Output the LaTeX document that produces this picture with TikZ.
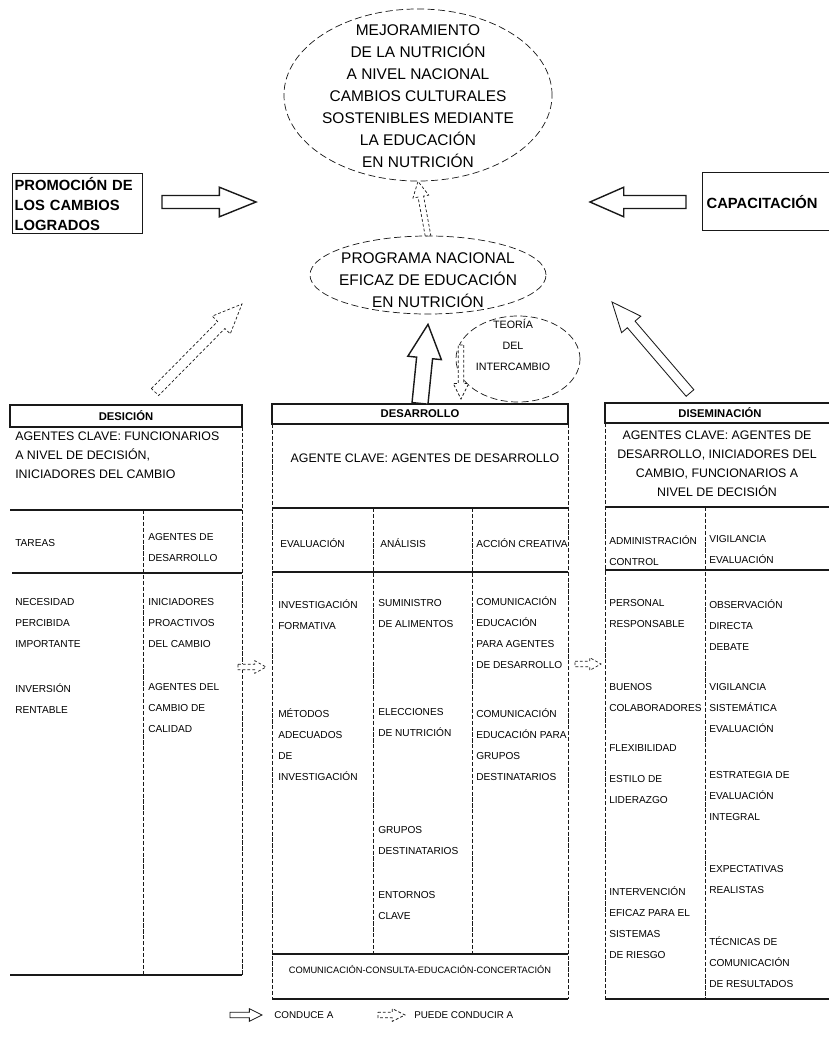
\documentclass[tikz,border=0pt]{standalone}
\usepackage{fontspec}
\setmainfont{Liberation Sans}
\usepackage{tikz}
\usetikzlibrary{positioning,calc,shapes.geometric}
\definecolor{colorink}  {RGB}{25 ,25 ,25 }
\definecolor{colorpage} {RGB}{255,255,255}

% hollow block arrow: [style]{from}{to}{shaft half width}{head half width}{head length}
\newcommand{\blockarrow}[6][]{%
  \coordinate (ba-neck) at ($(#3)!#6!(#2)$);
  \draw[#1] ($(#2)!#4!90:(#3)$) -- ($(ba-neck)!#4!90:(#3)$) -- ($(ba-neck)!#5!90:(#3)$)
    -- (#3) -- ($(ba-neck)!#5!-90:(#3)$) -- ($(ba-neck)!#4!-90:(#3)$)
    -- ($(#2)!#4!-90:(#3)$) -- cycle;}

\begin{document}
\begin{tikzpicture}[
    x=0.025cm, y=-0.025cm,
    font=\fontsize{7.2}{15}\selectfont,
    cell/.style={anchor=north west, align=left, inner sep=0pt},
    key/.style={align=center, inner sep=0pt, font=\fontsize{8.8}{13.5}\selectfont},
    big/.style={align=center, inner sep=0pt, font=\fontsize{11}{15.6}\selectfont},
    side/.style={draw=colorink, line width=0.9pt, anchor=north west, inner ysep=0pt, align=left,
                 font=\bfseries\fontsize{10.5}{14.2}\selectfont},
    headbox/.style={draw=colorink, line width=0.9pt, inner sep=0pt, font=\bfseries\fontsize{8}{10}\selectfont},
    oval/.style={draw=colorink, ellipse, dash pattern=on 5pt off 2.5pt, line width=0.5pt, inner sep=0pt},
    rule/.style={draw=colorink, line width=0.9pt},
    divider/.style={draw=colorink, dash pattern=on 3pt off 1.2pt, line width=0.45pt},
    fat/.style={draw=colorink, fill=colorpage, line width=1pt, line join=miter},
    faint/.style={draw=colorink, fill=colorpage, line width=0.5pt, dash pattern=on 2pt off 1.5pt},
]
\fill[colorpage] (0,0) rectangle (829,1040);
\useasboundingbox (0,0) rectangle (829,1040);

% goal and programme
\node[oval, minimum width=6.7cm, minimum height=4.3cm] (meta) at (418,95) {};
\node[big] (metatext) at (418,96) {MEJORAMIENTO\\DE LA NUTRICIÓN\\A NIVEL NACIONAL\\CAMBIOS CULTURALES\\SOSTENIBLES MEDIANTE\\LA EDUCACIÓN\\EN NUTRICIÓN};

\node[oval, minimum width=5.9cm, minimum height=1.95cm] (programa) at (428,275) {};
\node[big] (programatext) at (428,280) {PROGRAMA NACIONAL\\EFICAZ DE EDUCACIÓN\\EN NUTRICIÓN};

\node[oval, minimum width=3.1cm, minimum height=2.15cm] (teoria) at (518,359) {};
\node[align=center, inner sep=0pt, font=\fontsize{7.6}{15}\selectfont] (teoriatext) at (513,345) {TEORÍA\\DEL\\INTERCAMBIO};

% side boxes
\node[side, text width=3.15cm, minimum height=1.5cm, inner xsep=0.05cm] (promo) at (12,173) {PROMOCIÓN DE\\LOS CAMBIOS\\LOGRADOS};
\node[side, text width=3.3cm, minimum height=1.45cm, inner xsep=0.1cm] (capacita) at (702,172) {CAPACITACIÓN};

\coordinate (promoout) at (162,202);
\coordinate (metaleft) at (256,202);
\coordinate (capin) at (686,202);
\coordinate (metaright) at (590,202);
\blockarrow[fat]{promoout}{metaleft}{4.6pt}{10.5pt}{26pt}
\blockarrow[fat]{capin}{metaright}{4.6pt}{10.5pt}{24pt}

% DESICION
\node[headbox, minimum width=5.8cm, minimum height=0.55cm] (decision) at (126,416) {DESICIÓN};
\node[key, anchor=north west, align=left] (decisionkey) at (15,432) {AGENTES CLAVE: FUNCIONARIOS\\A NIVEL DE DECISIÓN,\\INICIADORES DEL CAMBIO};
\draw[rule] (10,510) -- (242,510);
\draw[divider] (242,427) -- (242,975);
\draw[divider] (143,510) -- (143,975);
\draw[rule] (12,573) -- (242,573);
\draw[rule] (10,975) -- (242,975);
\node[cell] (tareas) at (15,539) {TAREAS};
\node[cell] (agentesdes) at (148,533) {AGENTES DE\\DESARROLLO};
\node[cell] (necesidad) at (15,598) {NECESIDAD\\PERCIBIDA\\IMPORTANTE};
\node[cell] (iniciadores) at (148,598) {INICIADORES\\PROACTIVOS\\DEL CAMBIO};
\node[cell] (inversion) at (15,683) {INVERSIÓN\\RENTABLE};
\node[cell] (agentescambio) at (148,683) {AGENTES DEL\\CAMBIO DE\\CALIDAD};

% DESARROLLO
\node[headbox, minimum width=7.4cm, minimum height=0.5cm] (desarrollo) at (420,414) {DESARROLLO};
\node[key] (desarrollokey) at (425,458) {AGENTE CLAVE: AGENTES DE DESARROLLO};
\draw[rule] (272,508) -- (568,508);
\draw[divider] (272,424) -- (272,999);
\draw[divider] (568,424) -- (568,999);
\draw[divider] (373,508) -- (373,954);
\draw[divider] (472,508) -- (472,954);
\draw[rule] (272,572) -- (568,572);
\draw[rule] (272,954) -- (568,954);
\draw[rule] (272,999) -- (568,999);
\node[cell] (evaluacion) at (280,538) {EVALUACIÓN};
\node[cell] (analisis) at (380,538) {ANÁLISIS};
\node[cell] (accion) at (476,538) {ACCIÓN CREATIVA};
\node[cell] (investigacion) at (278,599) {INVESTIGACIÓN\\FORMATIVA};
\node[cell] (suministro) at (378,599) {SUMINISTRO\\DE ALIMENTOS};
\node[cell] (comagentes) at (476,596) {COMUNICACIÓN\\EDUCACIÓN\\PARA AGENTES\\DE DESARROLLO};
\node[cell] (metodos) at (278,708) {MÉTODOS\\ADECUADOS\\DE\\INVESTIGACIÓN};
\node[cell] (elecciones) at (378,708) {ELECCIONES\\DE NUTRICIÓN};
\node[cell] (comgrupos) at (476,708) {COMUNICACIÓN\\EDUCACIÓN PARA\\GRUPOS\\DESTINATARIOS};
\node[cell] (grupos) at (378,826) {GRUPOS\\DESTINATARIOS};
\node[cell] (entornos) at (378,891) {ENTORNOS\\CLAVE};
\node[inner sep=0pt, font=\fontsize{6.6}{8}\selectfont] (concerta) at (420,970) {COMUNICACIÓN-CONSULTA-EDUCACIÓN-CONCERTACIÓN};

% DISEMINACION
\node[headbox, minimum width=5.75cm, minimum height=0.5cm] (disemin) at (720,413) {DISEMINACIÓN};
\node[key, anchor=north] (diseminkey) at (717,431) {AGENTES CLAVE: AGENTES DE\\DESARROLLO, INICIADORES DEL\\CAMBIO, FUNCIONARIOS A\\NIVEL DE DECISIÓN};
\draw[rule] (605,507) -- (835,507);
\draw[divider] (605,423) -- (605,999);
\draw[divider] (705,507) -- (705,999);
\draw[rule] (605,570) -- (835,570);
\draw[rule] (605,999) -- (835,999);
\node[cell] (admin) at (609,535) {ADMINISTRACIÓN\\CONTROL};
\node[cell] (vigila) at (709,535) {VIGILANCIA\\EVALUACIÓN};
\node[cell] (personal) at (609,599) {PERSONAL\\RESPONSABLE};
\node[cell] (observa) at (709,599) {OBSERVACIÓN\\DIRECTA\\DEBATE};
\node[cell] (buenos) at (609,683) {BUENOS\\COLABORADORES};
\node[cell] (sistematica) at (709,683) {VIGILANCIA\\SISTEMÁTICA\\EVALUACIÓN};
\node[cell] (flexible) at (609,744) {FLEXIBILIDAD};
\node[cell] (estilo) at (609,775) {ESTILO DE\\LIDERAZGO};
\node[cell] (estrategia) at (709,771) {ESTRATEGIA DE\\EVALUACIÓN\\INTEGRAL};
\node[cell] (expecta) at (709,865) {EXPECTATIVAS\\REALISTAS};
\node[cell] (interven) at (609,886) {INTERVENCIÓN\\EFICAZ PARA EL\\SISTEMAS\\DE RIESGO};
\node[cell] (tecnicas) at (709,936) {TÉCNICAS DE\\COMUNICACIÓN\\DE RESULTADOS};

% links between the blocks
\coordinate (desup) at (desarrollo.north);
\coordinate (programain) at ($(programa.south)+(0,10)$);
\blockarrow[fat]{desup}{programain}{5.7pt}{12pt}{24pt}
\blockarrow[faint]{programa.north}{meta.south}{2pt}{5.7pt}{11pt}
\coordinate (teoriaout) at (461,345);
\coordinate (desarrolloin) at (461,399);
\blockarrow[faint]{teoriaout}{desarrolloin}{2pt}{5.5pt}{11pt}
\coordinate (decisionout) at (155,392);
\coordinate (programaleft) at (242,304);
\blockarrow[faint]{decisionout}{programaleft}{3.6pt}{9pt}{21pt}
\coordinate (diseminout) at (690,393);
\coordinate (programaright) at (612,302);
\blockarrow[fat, line width=0.6pt]{diseminout}{programaright}{3.6pt}{9pt}{21pt}
\coordinate (decisionright) at (238,667);
\coordinate (desarrolloleft) at (266,667);
\blockarrow[faint]{decisionright}{desarrolloleft}{2pt}{4.5pt}{8pt}
\coordinate (desarrolloright) at (575,664);
\coordinate (diseminleft) at (601,664);
\blockarrow[faint]{desarrolloright}{diseminleft}{2pt}{4.5pt}{8pt}

% legend
\coordinate (legendA) at (230,1015);
\coordinate (legendB) at (262,1015);
\blockarrow[fat, line width=0.6pt]{legendA}{legendB}{2pt}{4.5pt}{9pt}
\node[anchor=west, inner sep=0pt, font=\fontsize{7}{8}\selectfont] (conduce) at (274,1015) {CONDUCE A};
\coordinate (legendC) at (378,1015);
\coordinate (legendD) at (405,1015);
\blockarrow[faint]{legendC}{legendD}{2pt}{4.5pt}{9pt}
\node[anchor=west, inner sep=0pt, font=\fontsize{7}{8}\selectfont] (puede) at (414,1015) {PUEDE CONDUCIR A};

\end{tikzpicture}
\end{document}
